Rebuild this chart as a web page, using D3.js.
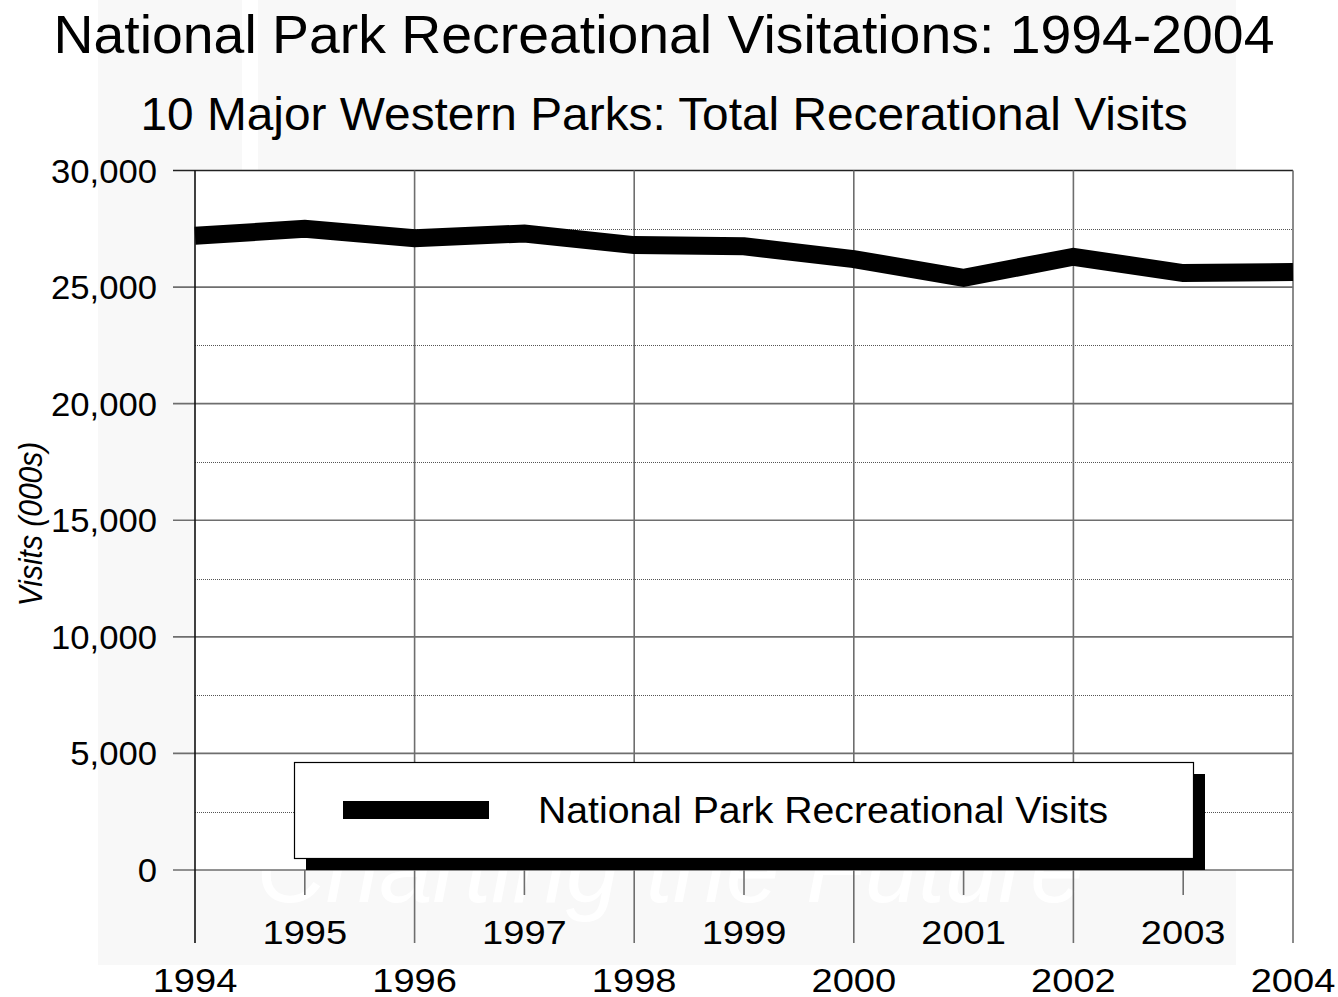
<!DOCTYPE html>
<html>
<head>
<meta charset="utf-8">
<script src="https://cdn.jsdelivr.net/npm/d3@7"></script>
<style>
  html, body { margin: 0; padding: 0; background: #ffffff; }
  svg { display: block; font-family: "Liberation Sans", Arial, sans-serif; }
</style>
</head>
<body>
<svg id="chart" width="1338" height="997"></svg>
<script>
// ---- data ----
const years = [1994, 1995, 1996, 1997, 1998, 1999, 2000, 2001, 2002, 2003, 2004];
const visits = [27200, 27500, 27100, 27300, 26800, 26750, 26200, 25400, 26300, 25600, 25650];
const yTicks = [0, 5000, 10000, 15000, 20000, 25000, 30000];
const yMinorTicks = [2500, 7500, 12500, 17500, 22500, 27500];
const evenYears = [1994, 1996, 1998, 2000, 2002, 2004];
const oddYears = [1995, 1997, 1999, 2001, 2003];
const titleText = "National Park Recreational Visitations: 1994-2004";
const subtitleText = "10 Major Western Parks: Total Recerational Visits";
const yLabelText = "Visits (000s)";
const seriesName = "National Park Recreational Visits";
const watermarkText = "Charting the Future";

const svg = d3.select("#chart");
const plot = { left: 195, right: 1293, top: 170.5, bottom: 870 };

const x = d3.scaleLinear().domain([1994, 2004]).range([plot.left, plot.right]);
const y = d3.scaleLinear().domain([0, 30000]).range([plot.bottom, plot.top]);

// helper: horizontally stretched text
function stext(parent, tx, ty, sx, size, anchor, str) {
  return parent.append("text")
    .attr("transform", `translate(${tx},${ty}) scale(${sx},1)`)
    .attr("text-anchor", anchor).attr("font-size", size).attr("fill", "#000").text(str);
}

// background panel (watermark area)
svg.append("rect").attr("x", 98).attr("y", 0).attr("width", 1138).attr("height", 965).attr("fill", "#f8f8f8");
svg.append("rect").attr("x", 242).attr("y", 0).attr("width", 16).attr("height", 170).attr("fill", "#ffffff");
svg.append("text").attr("x", 670).attr("y", 902).attr("text-anchor", "middle")
  .attr("font-size", 96).attr("font-style", "italic").attr("fill", "#ffffff").text(watermarkText);

// plot area
svg.append("rect").attr("x", plot.left).attr("y", plot.top).attr("width", plot.right - plot.left)
  .attr("height", plot.bottom - plot.top).attr("fill", "#ffffff");

// minor dotted gridlines
svg.append("g").selectAll("line").data(yMinorTicks).join("line")
  .attr("x1", plot.left).attr("x2", plot.right)
  .attr("y1", d => Math.round(y(d)) + 0.5).attr("y2", d => Math.round(y(d)) + 0.5)
  .attr("stroke", "#555").attr("stroke-width", 1).attr("stroke-dasharray", "1,1");

// major horizontal gridlines + ticks
svg.append("g").selectAll("line").data(yTicks).join("line")
  .attr("x1", plot.left - 22).attr("x2", plot.right)
  .attr("y1", d => y(d)).attr("y2", d => y(d))
  .attr("stroke", d => d === 30000 ? "#222" : "#6e6e6e").attr("stroke-width", 1.6);

// vertical gridlines (even years) extending below
svg.append("g").selectAll("line").data(evenYears).join("line")
  .attr("x1", d => x(d)).attr("x2", d => x(d))
  .attr("y1", plot.top).attr("y2", 943)
  .attr("stroke", d => d === 1994 ? "#111" : "#6e6e6e").attr("stroke-width", 1.6);

// odd-year ticks
svg.append("g").selectAll("line").data(oddYears).join("line")
  .attr("x1", d => x(d)).attr("x2", d => x(d))
  .attr("y1", plot.bottom).attr("y2", 895)
  .attr("stroke", "#6e6e6e").attr("stroke-width", 1.6);

// y tick labels
const gy = svg.append("g");
yTicks.forEach(d => stext(gy, 157, y(d) + 12, 1.05, 33, "end", d3.format(",")(d)));

// x labels
const gx = svg.append("g");
oddYears.forEach(d => stext(gx, x(d), 944, 1.12, 34, "middle", d));
evenYears.forEach(d => stext(gx, x(d), 992, 1.12, 34, "middle", d));

// y axis label
svg.append("text").attr("transform", "translate(42,524) rotate(-90) scale(1,1.1)")
  .attr("text-anchor", "middle").attr("font-size", 30).attr("font-style", "italic")
  .attr("fill", "#000").text(yLabelText);

// series line
const line = d3.line().x((d, i) => x(years[i])).y(d => y(d));
svg.append("path").datum(visits).attr("d", line)
  .attr("fill", "none").attr("stroke", "#000").attr("stroke-width", 18)
  .attr("stroke-linejoin", "miter").attr("stroke-linecap", "butt");

// legend
const lg = { x: 294, y: 762, w: 899, h: 96 };
svg.append("rect").attr("x", lg.x + 12).attr("y", lg.y + 12).attr("width", lg.w).attr("height", lg.h).attr("fill", "#000");
svg.append("rect").attr("x", lg.x + 0.5).attr("y", lg.y + 0.5).attr("width", lg.w).attr("height", lg.h)
  .attr("fill", "#fff").attr("stroke", "#000").attr("stroke-width", 1.2);
svg.append("line").attr("x1", 343).attr("x2", 489).attr("y1", 810).attr("y2", 810)
  .attr("stroke", "#000").attr("stroke-width", 18);
stext(svg, 538, 823, 1.06, 37, "start", seriesName);

// titles
stext(svg, 664, 53, 1.045, 53, "middle", titleText);
stext(svg, 664, 130, 1.04, 46, "middle", subtitleText);
</script>
</body>
</html>
